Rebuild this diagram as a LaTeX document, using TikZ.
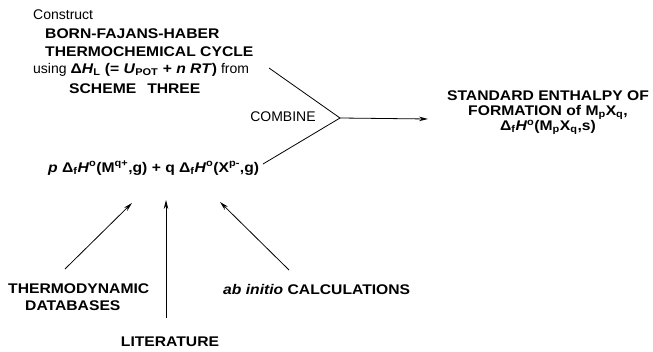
\documentclass[tikz,border=0pt]{standalone}
\usepackage{fontspec}
\setmainfont{Liberation Sans}[BoldFeatures={FakeStretch=1.12},BoldItalicFeatures={FakeStretch=1.12}]
\usetikzlibrary{arrows.meta}
\tikzset{
  txt/.style={inner sep=0pt, font=\fontsize{14}{16}\selectfont},
  conn/.style={line width=0.8pt},
  arr/.style={line width=0.8pt, -{Stealth[length=9pt,width=4.5pt]}}
}
\begin{document}
\begin{tikzpicture}[x=1pt,y=-1pt]
\useasboundingbox (0,0) rectangle (653,352);
% left top block
\node[txt, anchor=west] (construct) at (33,15) {Construct};
\node[txt, anchor=west] (bfh) at (45,34) {\textbf{BORN-FAJANS-HABER}};
\node[txt, anchor=west] (tc) at (45,52) {\textbf{THERMOCHEMICAL CYCLE}};
\node[txt, anchor=west] (using) at (33,70) {using \textbf{Δ\textit{H}\textsubscript{L} (= \textit{U}\textsubscript{POT} + \textit{n RT})} from};
\node[txt, anchor=west] (scheme) at (69,89) {\textbf{SCHEME\hspace{11pt}THREE}};
% formula
\node[txt, anchor=west] (formula) at (48,168) {\textbf{\textit{p} Δ\textsubscript{f}\textit{H}\textsuperscript{o}(M\textsuperscript{q+},g) + q Δ\textsubscript{f}\textit{H}\textsuperscript{o}(X\textsuperscript{p-},g)}};
% combine
\node[txt] (combine) at (283,117) {COMBINE};
% result
\node[txt, align=center, font=\fontsize{14}{15}\selectfont\bfseries] (result) at (548,113)
  {STANDARD ENTHALPY OF\\FORMATION of M\textsubscript{p}X\textsubscript{q},\\Δ\textsubscript{f}\textit{H}\textsuperscript{o}(M\textsubscript{p}X\textsubscript{q},s)};
% bottom labels
\node[txt, anchor=west] (thermo) at (8,289) {\textbf{THERMODYNAMIC}};
\node[txt, anchor=west] (datab) at (25,306) {\textbf{DATABASES}};
\node[txt] (lit) at (170,342) {\textbf{LITERATURE}};
\node[txt, anchor=west] (abinit) at (223,289) {\textbf{\textit{ab initio} CALCULATIONS}};
% coordinates
\coordinate (t1) at (269,68);
\coordinate (b1) at (263,164);
\coordinate (v) at (340,118);
\coordinate (ah) at (428,119);
\coordinate (a1s) at (65,269);
\coordinate (a1e) at (132,203);
\coordinate (a2s) at (166,318);
\coordinate (a2e) at (166,200);
\coordinate (a3s) at (289,270);
\coordinate (a3e) at (220,202);
% connectors
\draw[conn] (t1) -- (v) -- (b1);
\draw[arr] (v) -- (ah);
\draw[arr] (a1s) -- (a1e);
\draw[arr] (a2s) -- (a2e);
\draw[arr] (a3s) -- (a3e);
\end{tikzpicture}
\end{document}
